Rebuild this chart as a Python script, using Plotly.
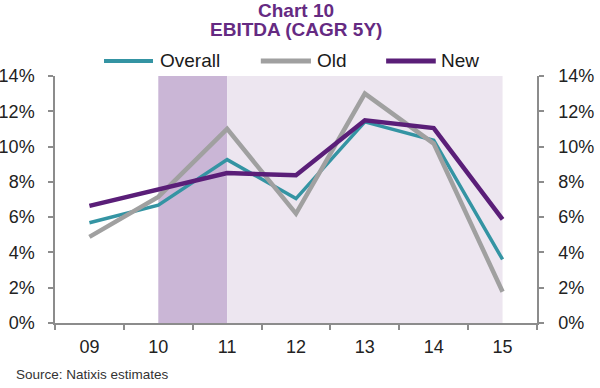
import plotly.graph_objects as go

categories = ["09", "10", "11", "12", "13", "14", "15"]
overall = [5.68, 6.68, 9.26, 7.05, 11.4, 10.36, 3.6]
old = [4.88, 7.15, 11.0, 6.2, 13.0, 10.17, 1.77]
new = [6.64, 7.57, 8.5, 8.37, 11.49, 11.05, 5.87]
y_ticks = [0, 2, 4, 6, 8, 10, 12, 14]
y_ticktext = [f"{v}%" for v in y_ticks]

series_names = ["Overall", "Old", "New"]
series_colors = ["#3494A3", "#A0A0A0", "#5A1E78"]
series_widths = [3.5, 4.5, 4.5]
series_values = [overall, old, new]

font = "Liberation Sans, Arial, sans-serif"

fig = go.Figure()
for name, vals, col, w in zip(series_names, series_values, series_colors, series_widths):
    fig.add_trace(go.Scatter(x=categories, y=vals, name=name, mode="lines",
                             line=dict(color=col, width=w), showlegend=False))
fig.add_trace(go.Scatter(x=categories, y=overall, yaxis="y2", mode="lines",
                         line=dict(width=0), showlegend=False, hoverinfo="skip"))

# shaded periods
fig.add_shape(type="rect", xref="x", yref="y", x0=1, x1=2, y0=0, y1=14,
              fillcolor="#CAB6D6", line=dict(width=0), layer="below")
fig.add_shape(type="rect", xref="x", yref="y", x0=2, x1=6, y0=0, y1=14,
              fillcolor="#EDE6F0", line=dict(width=0), layer="below")

# custom legend (longer line samples like the reference)
leg_y = 1.061
leg_items = [(0.1017, 0.2033, 0.2137), (0.427, 0.531, 0.539), (0.687, 0.790, 0.797)]
for (x0, x1, xt), name, col, w in zip(leg_items, series_names, series_colors, series_widths):
    fig.add_shape(type="line", xref="paper", yref="paper", x0=x0, x1=x1, y0=leg_y, y1=leg_y,
                  line=dict(color=col, width=w + 0.5))
    fig.add_annotation(text=name, xref="paper", yref="paper", x=xt, y=leg_y,
                       xanchor="left", yanchor="middle", showarrow=False,
                       font=dict(family=font, size=19, color="#1a1a1a"))

axis_font = dict(family=font, size=18, color="#222222")
fig.update_layout(
    width=600, height=388,
    margin=dict(l=55, r=63, t=76, b=65, autoexpand=False),
    paper_bgcolor="white", plot_bgcolor="white",
    showlegend=False,
    xaxis=dict(type="category", tickson="boundaries", ticks="outside", ticklen=5,
               tickcolor="#8C8C8C", tickwidth=1.5, showline=True, linecolor="#8C8C8C",
               linewidth=1.5, showgrid=False, tickfont=axis_font, range=[-0.5, 6.5],
               automargin=False, ticklabelstandoff=7),
    yaxis=dict(range=[0, 14], tickvals=y_ticks, ticktext=y_ticktext, ticks="outside",
               ticklen=5, tickcolor="#8C8C8C", tickwidth=1.5, showline=True,
               linecolor="#8C8C8C", linewidth=1.5, showgrid=False, zeroline=False,
               tickfont=axis_font, automargin=False, ticklabelstandoff=10),
    yaxis2=dict(range=[0, 14], tickvals=y_ticks, ticktext=y_ticktext, ticks="outside",
                ticklen=5, tickcolor="#8C8C8C", tickwidth=1.5, showline=True,
                linecolor="#8C8C8C", linewidth=1.5, showgrid=False, zeroline=False,
                tickfont=axis_font, overlaying="y", side="right", automargin=False,
                ticklabelstandoff=11),
)

title_color = "#652A82"
fig.add_annotation(text="<b>Chart 10</b>", xref="paper", yref="paper", x=0.5, y=1.267,
                   xanchor="center", yanchor="middle", showarrow=False,
                   font=dict(family=font, size=19, color=title_color))
fig.add_annotation(text="<b>EBITDA (CAGR 5Y)</b>", xref="paper", yref="paper", x=0.5, y=1.19,
                   xanchor="center", yanchor="middle", showarrow=False,
                   font=dict(family=font, size=19, color=title_color))
fig.add_annotation(text="Source: Natixis estimates", xref="paper", yref="paper",
                   x=-0.085, y=-0.2105, xanchor="left", yanchor="middle", showarrow=False,
                   font=dict(family=font, size=13.5, color="#333333"))

fig.write_html("out.html", config={"displayModeBar": False},
               post_script="document.body.style.margin='0';document.body.style.overflow='hidden';")
